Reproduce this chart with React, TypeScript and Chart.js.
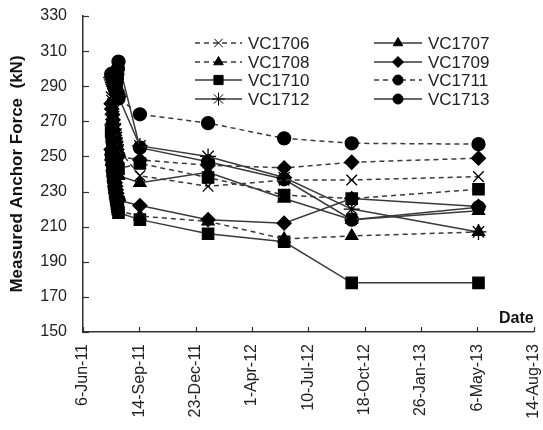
import React, { useEffect, useRef } from 'react';
import { Chart, registerables } from 'chart.js';
import { drawPoint } from 'chart.js/helpers';

Chart.register(...registerables);

// ---- data ----
const tickLabels = ['6-Jun-11', '14-Sep-11', '23-Dec-11', '1-Apr-12', '10-Jul-12', '18-Oct-12', '26-Jan-13', '6-May-13', '14-Aug-13'];
const axisStart = '2011-06-06';
const earlyDates = [
  '2011-07-26', '2011-07-27', '2011-07-28', '2011-07-29', '2011-07-30', '2011-07-31', '2011-08-01',
  '2011-08-02', '2011-08-03', '2011-08-04', '2011-08-05', '2011-08-06', '2011-08-07', '2011-08-08',
];
const laterDates = ['2011-09-15', '2012-01-14', '2012-05-28', '2012-09-25', '2013-05-08'];

const VC1706 = [284, 282, 280, 278, 276, 273, 271, 268, 266, 263, 261, 258, 256, 254, 239, 233, 236.5, 236.6, 238.5];
const VC1707 = [270, 266, 263, 260, 257, 255, 252, 250, 248, 246, 244, 242, 240, 239, 235, 241, 226, 214, 219];
const VC1708 = [250, 247, 244, 241, 238, 235, 233, 231, 228, 226, 224, 222, 220, 219, 216, 213, 203, 204.7, 207];
const VC1709 = [254, 251, 248, 245, 242, 240, 237, 235, 233, 231, 229, 227, 226, 225, 222, 214, 212, 226, 221.5];
const VC1710 = [251, 248, 244, 241, 238, 235, 232, 230, 228, 226, 224, 222, 220, 218, 214, 206, 201.4, 178, 178];
const VC1711 = [297, 296, 295, 294, 292, 291, 290, 289, 288, 287, 286, 285, 284, 283, 274, 269, 260.3, 257.5, 257];
const VC1712 = [295, 294, 293, 292, 291, 290, 290, 289, 288, 288, 287, 286, 285, 284, 256, 250, 238, 220, 207];
const VC1713 = [null, null, null, null, null, null, null, 288, 290, 292, 294, 297, 300, 304, 255, 247, 237, 214, 221];
const VC1714 = [280, 277, 274, 271, 268, 265, 262, 260, 258, 256, 254, 252, 251, 250, 248, 245, 243.5, 246.7, 249];
const VC1715 = [264, 261, 258, 256, 254, 252, 250, 248, 247, 246, 245, 244, 243, 243, 246, 238, 228, 226, 231.3];

const allDates = [...earlyDates, ...laterDates];
const dayOf = (d: string) => (Date.parse(d) - Date.parse(axisStart)) / 86400000;

type Series = { name: string; values: (number | null)[]; style: string; dashed: boolean; radius: number };
const series: Series[] = [
  { name: 'VC1706', values: VC1706, style: 'crossRot', dashed: true, radius: 7.5 },
  { name: 'VC1707', values: VC1707, style: 'triangle', dashed: false, radius: 7 },
  { name: 'VC1708', values: VC1708, style: 'triangle', dashed: true, radius: 7 },
  { name: 'VC1709', values: VC1709, style: 'rectRot', dashed: false, radius: 7 },
  { name: 'VC1710', values: VC1710, style: 'rect', dashed: false, radius: 8 },
  { name: 'VC1711', values: VC1711, style: 'circle', dashed: true, radius: 6.5 },
  { name: 'VC1712', values: VC1712, style: 'star', dashed: false, radius: 8 },
  { name: 'VC1713', values: VC1713, style: 'circle', dashed: false, radius: 6.5 },
  { name: 'VC1714', values: VC1714, style: 'rectRot', dashed: true, radius: 7 },
  { name: 'VC1715', values: VC1715, style: 'rect', dashed: true, radius: 8 },
];

const legendCols = [
  ['VC1706', 'VC1708', 'VC1710', 'VC1712'],
  ['VC1707', 'VC1709', 'VC1711', 'VC1713'],
];

const FONT = "'Liberation Sans', Arial, sans-serif";
const DASH = [5, 4];

const overlayPlugin = {
  id: 'overlay',
  afterDraw(chart: any) {
    const { ctx, chartArea } = chart;
    const xs = chart.scales.x;
    const ys = chart.scales.y;
    ctx.save();
    // inside tick marks
    ctx.strokeStyle = '#333';
    ctx.lineWidth = 1.2;
    ctx.setLineDash([]);
    for (let v = 150; v <= 330; v += 20) {
      const y = Math.round(ys.getPixelForValue(v)) + 0.5;
      ctx.beginPath();
      ctx.moveTo(chartArea.left, y);
      ctx.lineTo(chartArea.left + 6, y);
      ctx.stroke();
    }
    for (let v = 0; v <= 800; v += 100) {
      const x = Math.round(xs.getPixelForValue(v)) + 0.5;
      ctx.beginPath();
      ctx.moveTo(x, chartArea.bottom);
      ctx.lineTo(x, chartArea.bottom - 5);
      ctx.stroke();
    }
    // "Date" label
    ctx.fillStyle = '#111';
    ctx.font = `bold 16px ${FONT}`;
    ctx.textAlign = 'right';
    ctx.textBaseline = 'alphabetic';
    ctx.fillText('Date', chartArea.right, chartArea.bottom - 9);
    // legend
    const colX = [[195, 242, 248], [374, 422, 428]];
    const rowY = [43, 62, 80, 99];
    legendCols.forEach((col, ci) => {
      col.forEach((name, ri) => {
        const s = series.find((q) => q.name === name)!;
        const [x0, x1, tx] = colX[ci];
        const y = rowY[ri];
        ctx.strokeStyle = '#3a3a3a';
        ctx.lineWidth = 1.5;
        ctx.setLineDash(s.dashed ? DASH : []);
        ctx.beginPath();
        ctx.moveTo(x0, y);
        ctx.lineTo(x1, y);
        ctx.stroke();
        ctx.setLineDash([]);
        ctx.fillStyle = '#000';
        ctx.strokeStyle = '#000';
        ctx.lineWidth = 1;
        drawPoint(ctx, { pointStyle: s.style, rotation: 0, radius: s.radius - 1.5, borderWidth: 1 }, (x0 + x1) / 2, y);
        ctx.fillStyle = '#222';
        ctx.font = `17px ${FONT}`;
        ctx.textAlign = 'left';
        ctx.textBaseline = 'middle';
        ctx.fillText(name, tx, y + 1);
      });
    });
    ctx.restore();
  },
};

export default function App() {
  const ref = useRef<HTMLCanvasElement | null>(null);
  useEffect(() => {
    document.body.style.margin = '0';
    Chart.defaults.font.family = FONT;
    const datasets = series.map((s) => ({
      label: s.name,
      data: allDates.map((d, i) => ({ x: dayOf(d), y: s.values[i] })),
      borderColor: '#3a3a3a',
      borderWidth: 1.5,
      borderDash: s.dashed ? DASH : [],
      pointStyle: s.style,
      pointRadius: s.radius,
      pointBackgroundColor: '#000',
      pointBorderColor: '#000',
      pointBorderWidth: 1.3,
      fill: false,
      tension: 0,
      spanGaps: true,
    }));
    const chart = new Chart(ref.current!, {
      type: 'line',
      data: { datasets },
      options: {
        responsive: false,
        animation: false,
        layout: { padding: { top: 16, right: 3, left: 0, bottom: 0 } },
        plugins: { legend: { display: false }, tooltip: { enabled: false } },
        scales: {
          x: {
            type: 'linear',
            min: 0,
            max: 800,
            ticks: {
              stepSize: 100,
              autoSkip: false,
              maxRotation: 90,
              minRotation: 90,
              padding: 12,
              color: '#222',
              font: { size: 16, family: FONT },
              callback: (_v: any, i: number) => tickLabels[i],
            },
            grid: { display: false, drawTicks: false },
            border: { display: true, color: '#333', width: 1.5 },
            afterFit: (scale: any) => {
              scale.height = 98;
              scale.paddingLeft = 0;
              scale.paddingRight = 0;
            },
          },
          y: {
            min: 150,
            max: 330,
            ticks: {
              stepSize: 20,
              padding: 16,
              color: '#222',
              font: { size: 16, family: FONT },
            },
            grid: { display: false, drawTicks: false },
            border: { display: true, color: '#333', width: 1.5 },
            title: {
              display: true,
              text: 'Measured Anchor Force  (kN)',
              color: '#111',
              font: { size: 17, weight: 'bold', family: FONT },
              padding: { top: 7, bottom: 0 },
            },
            afterFit: (scale: any) => {
              scale.width = 83;
              scale.paddingTop = 0;
              scale.paddingBottom = 0;
            },
          },
        },
      },
      plugins: [overlayPlugin],
    });
    return () => chart.destroy();
  }, []);
  return (
    <div style={{ width: 543, height: 430 }}>
      <canvas ref={ref} width={543} height={430} style={{ display: 'block' }} />
    </div>
  );
}
